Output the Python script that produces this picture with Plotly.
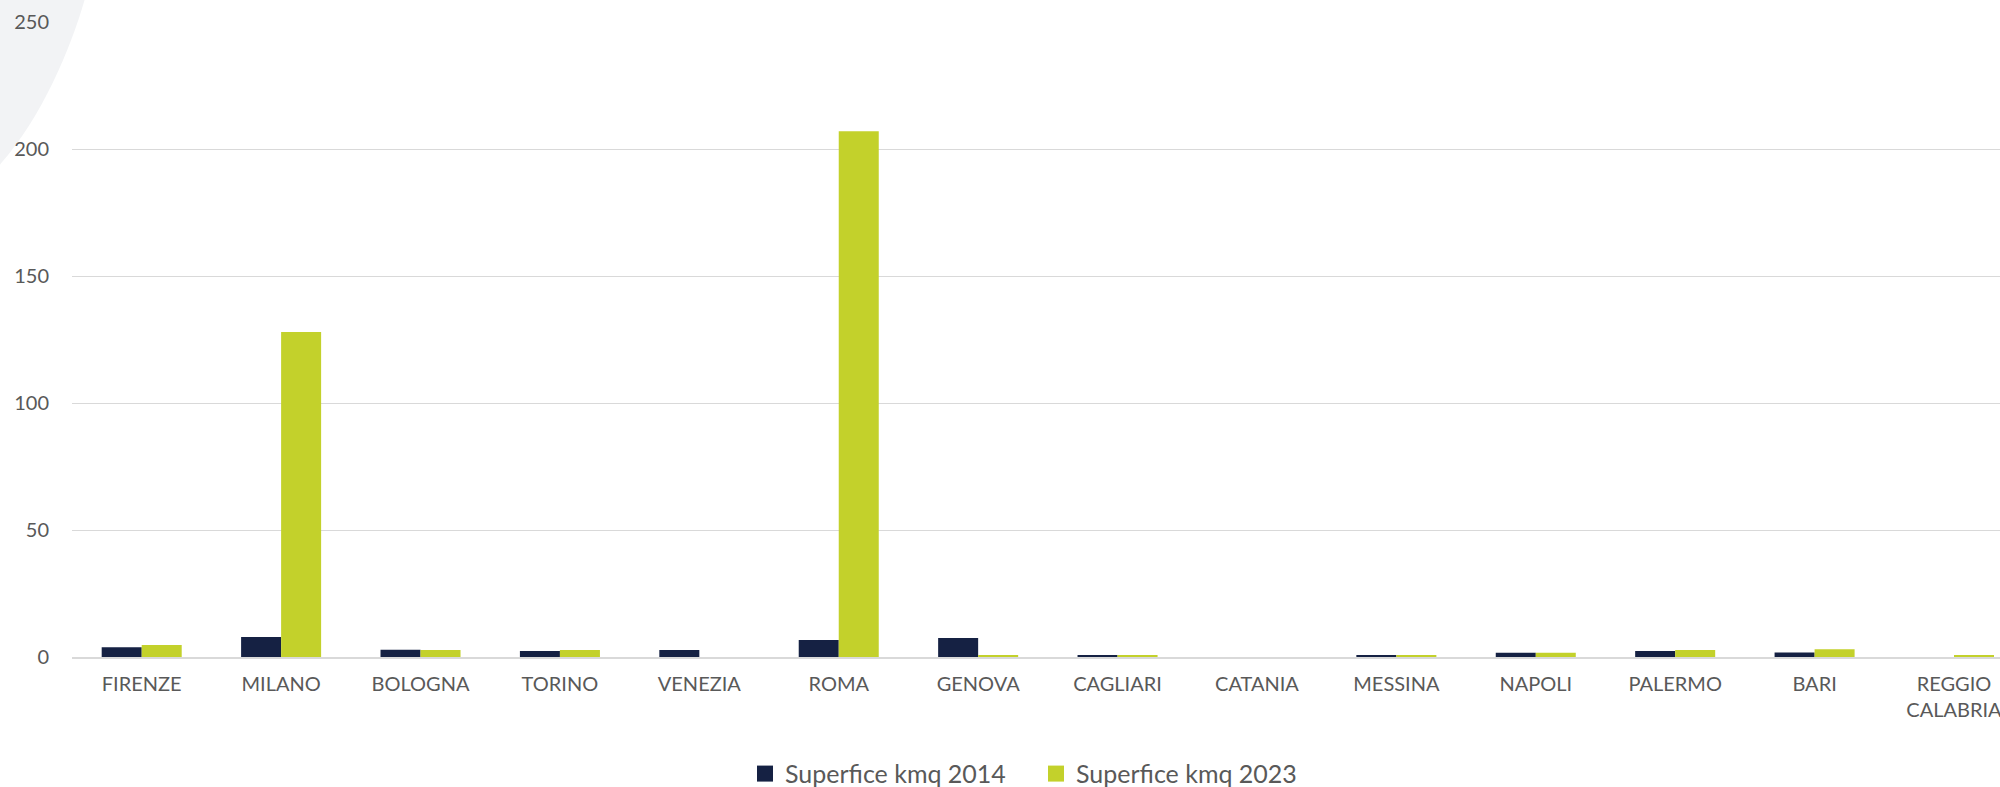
import plotly.graph_objects as go

# Superficie per città (kmq)
citta = ["FIRENZE", "MILANO", "BOLOGNA", "TORINO", "VENEZIA", "ROMA", "GENOVA",
         "CAGLIARI", "CATANIA", "MESSINA", "NAPOLI", "PALERMO", "BARI",
         "REGGIO<br>CALABRIA"]
superficie_2014 = [3.8, 7.9, 2.9, 2.4, 2.8, 6.7, 7.5, 0.65, 0.0, 0.8, 1.7, 2.4, 1.8, 0.0]
superficie_2023 = [4.7, 128.0, 2.8, 2.8, 0.0, 207.0, 0.4, 0.5, 0.0, 0.65, 1.7, 2.8, 3.1, 0.5]
serie = ["Superfice kmq 2014", "Superfice kmq 2023"]

NAVY = "#152143"
LIME = "#C3D12B"
TEXT = "#595959"
GRID = "#D9D9D9"
FONT = "Lato, 'Open Sans', sans-serif"

W, H = 2000, 787
M_L, M_R, M_T, M_B = 72, 0, 22, 130
plot_w = W - M_L - M_R
plot_h = H - M_T - M_B

fig = go.Figure()
for valori, nome, colore in [(superficie_2014, serie[0], NAVY),
                             (superficie_2023, serie[1], LIME)]:
    fig.add_trace(go.Bar(x=citta, y=valori, name=nome, legendgroup=nome,
                         showlegend=False,
                         marker=dict(color=colore, line=dict(width=0))))
# legend entries with larger square swatches
for nome, colore in [(serie[0], NAVY), (serie[1], LIME)]:
    fig.add_trace(go.Scatter(x=[None], y=[None], mode="markers", name=nome,
                             legendgroup=nome,
                             marker=dict(symbol="square", size=16, color=colore)))

# decorative light arc in the top-left corner (pixel points -> paper coords)
def px(x):
    return (x - M_L) / plot_w

def py(y):
    return 1 - (y - M_T) / plot_h

arc = (f"M {px(-5)},{py(-5)} L {px(86)},{py(-5)} "
       f"C {px(72)},{py(45)} {px(42)},{py(120)} {px(-5)},{py(170)} Z")
fig.add_shape(type="path", path=arc, xref="paper", yref="paper",
              fillcolor="#F2F3F5", line=dict(width=0), layer="below")

fig.update_layout(
    width=W, height=H,
    margin=dict(l=M_L, r=M_R, t=M_T, b=M_B, pad=0, autoexpand=False),
    paper_bgcolor="white", plot_bgcolor="rgba(0,0,0,0)",
    barmode="group", bargap=0.426, bargroupgap=0,
    font=dict(family=FONT, color=TEXT, size=20),
    showlegend=True,
    legend=dict(orientation="h", x=0.5, xanchor="center", y=-0.184, yanchor="middle",
                font=dict(size=25, color=TEXT, family=FONT),
                itemclick=False, traceorder="normal", itemwidth=30,
                entrywidth=246),
)
fig.update_xaxes(
    type="category", range=[-0.5, 13.33],
    showgrid=False, showline=True, linecolor=GRID, linewidth=2,
    ticks="", tickfont=dict(size=20, color=TEXT, family=FONT),
    ticklabelstandoff=8, fixedrange=True, automargin=False,
)
fig.update_yaxes(
    range=[0, 250], dtick=50, showgrid=True, gridcolor=GRID, gridwidth=1.3,
    zeroline=False, showline=False, ticks="",
    tickfont=dict(size=20, color=TEXT, family=FONT),
    ticklabelstandoff=22, fixedrange=True, automargin=False,
)

fig.write_html("out.html", include_plotlyjs=True, config={"displayModeBar": False})
